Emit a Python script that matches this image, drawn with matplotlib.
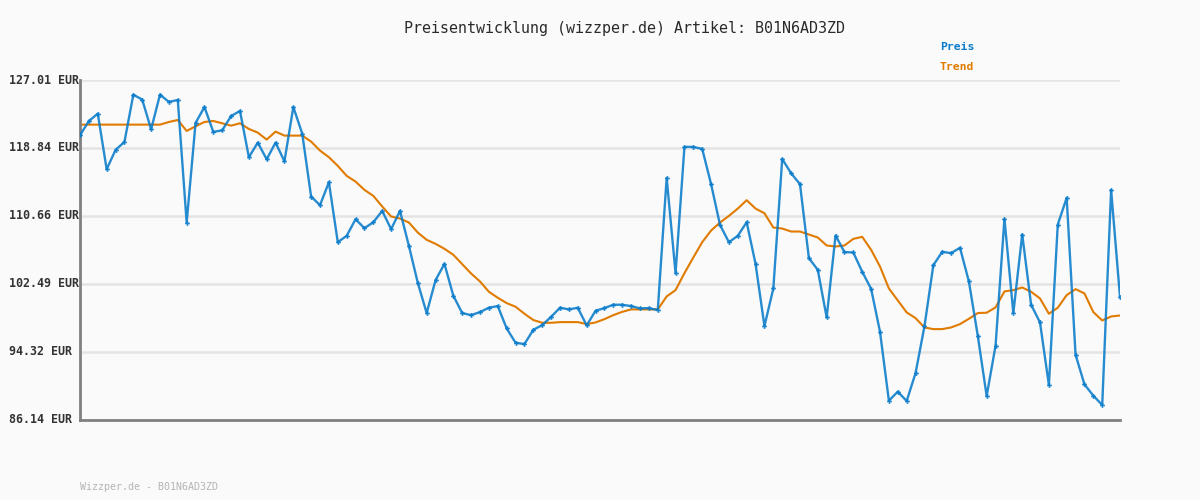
import matplotlib
matplotlib.use("Agg")
import matplotlib.pyplot as plt
import matplotlib.transforms as mtransforms

# Price values (EUR)
preis = [
    120.36, 122.08, 122.96, 116.27, 118.60, 119.56, 125.25, 124.65, 121.08, 125.25,
    124.37, 124.61, 109.86, 121.84, 123.76, 120.76, 120.96, 122.68, 123.28, 117.72,
    119.48, 117.47, 119.48, 117.23, 123.76, 120.56, 112.99, 111.95, 114.71, 107.50,
    108.26, 110.26, 109.18, 109.90, 111.26, 109.06, 111.26, 107.06, 102.61, 98.97,
    102.93, 104.89, 101.05, 98.97, 98.72, 99.09, 99.61, 99.81, 97.12, 95.40,
    95.24, 96.96, 97.52, 98.52, 99.61, 99.41, 99.61, 97.48, 99.25, 99.57,
    99.97, 99.97, 99.81, 99.53, 99.57, 99.33, 115.23, 103.77, 118.96, 118.96,
    118.72, 114.47, 109.58, 107.50, 108.26, 109.90, 104.89, 97.40, 101.93, 117.51,
    115.79, 114.47, 105.58, 104.17, 98.44, 108.30, 106.30, 106.26, 103.93, 101.89,
    96.72, 88.43, 89.51, 88.39, 91.75, 97.36, 104.73, 106.34, 106.18, 106.82,
    102.77, 96.24, 88.99, 95.04, 110.30, 98.97, 108.42, 99.97, 97.84, 90.31,
    109.62, 112.83, 93.96, 90.39, 89.03, 87.91, 113.79, 100.89,
]

# Trend values (EUR)
trend = [
    121.64, 121.64, 121.64, 121.64, 121.64, 121.64, 121.64, 121.64, 121.64, 121.64,
    121.96, 122.20, 120.88, 121.44, 121.96, 122.08, 121.80, 121.52, 121.80, 121.12,
    120.68, 119.84, 120.80, 120.32, 120.32, 120.32, 119.60, 118.52, 117.72, 116.68,
    115.48, 114.79, 113.79, 113.07, 111.79, 110.59, 110.34, 109.86, 108.66, 107.78,
    107.30, 106.70, 105.98, 104.85, 103.73, 102.77, 101.53, 100.81, 100.17, 99.73,
    98.89, 98.13, 97.80, 97.80, 97.88, 97.88, 97.88, 97.64, 97.84, 98.24,
    98.72, 99.12, 99.41, 99.41, 99.41, 99.41, 100.97, 101.73, 103.77, 105.66,
    107.50, 108.90, 109.86, 110.66, 111.54, 112.55, 111.54, 110.98, 109.26, 109.14,
    108.78, 108.78, 108.42, 108.06, 107.10, 106.98, 107.10, 107.90, 108.14, 106.58,
    104.57, 101.93, 100.49, 99.05, 98.36, 97.24, 97.04, 97.04, 97.24, 97.64,
    98.28, 98.97, 99.01, 99.65, 101.57, 101.73, 102.05, 101.53, 100.73, 98.89,
    99.61, 101.13, 101.85, 101.33, 99.09, 98.08, 98.56, 98.68,
]

y_ticks = [86.14, 94.32, 102.49, 110.66, 118.84, 127.01]
titel = "Preisentwicklung (wizzper.de) Artikel: B01N6AD3ZD"
fusszeile = "Wizzper.de - B01N6AD3ZD"

blau = "#0a7ccb"
orange = "#e07b00"
bg = "#fafafa"

fig = plt.figure(figsize=(12, 5), dpi=100, facecolor=bg)
ax = fig.add_axes([80 / 1200, 1 - 419.7 / 500, 1040 / 1200, 339.7 / 500])
ax.set_facecolor(bg)

x = list(range(len(preis)))

# grid lines
for t in y_ticks:
    ax.axhline(t, color="#e4e4e4", lw=1.8, zorder=0)

ax.plot(x, trend, color=orange, lw=1.5, zorder=2)
ax.plot(x, preis, color=blau, lw=1.7, alpha=0.88, marker="P", markersize=3.5,
        markeredgewidth=0, zorder=3)

ax.set_xlim(0, len(preis) - 1)
ax.set_ylim(y_ticks[0], y_ticks[-1])
ax.set_xticks([])
ax.set_yticks([])

for s in ["top", "right"]:
    ax.spines[s].set_visible(False)
for s in ["left", "bottom"]:
    ax.spines[s].set_color("#808080")
    ax.spines[s].set_linewidth(2)

# y labels, left aligned near figure edge
trans = mtransforms.blended_transform_factory(fig.transFigure, ax.transData)
for t in y_ticks:
    ax.text(9 / 1200, t, f"{t:.2f} EUR", transform=trans, ha="left", va="center",
            family="DejaVu Sans Mono", fontweight="bold", fontsize=8.4, color="#333333")

fig.text(624 / 1200, 1 - 28 / 500, titel, ha="center", va="center",
         family="DejaVu Sans Mono", fontsize=10.8, color="#2a2a2a")
fig.text(940 / 1200, 1 - 47 / 500, "Preis", ha="left", va="center",
         family="DejaVu Sans Mono", fontweight="bold", fontsize=8.2, color=blau)
fig.text(940 / 1200, 1 - 67 / 500, "Trend", ha="left", va="center",
         family="DejaVu Sans Mono", fontweight="bold", fontsize=8.2, color=orange)
fig.text(80 / 1200, 1 - 487 / 500, fusszeile, ha="left", va="center",
         family="DejaVu Sans Mono", fontsize=7.2, color="#b4b4b4")

fig.savefig("out.png", dpi=100, facecolor=bg)
